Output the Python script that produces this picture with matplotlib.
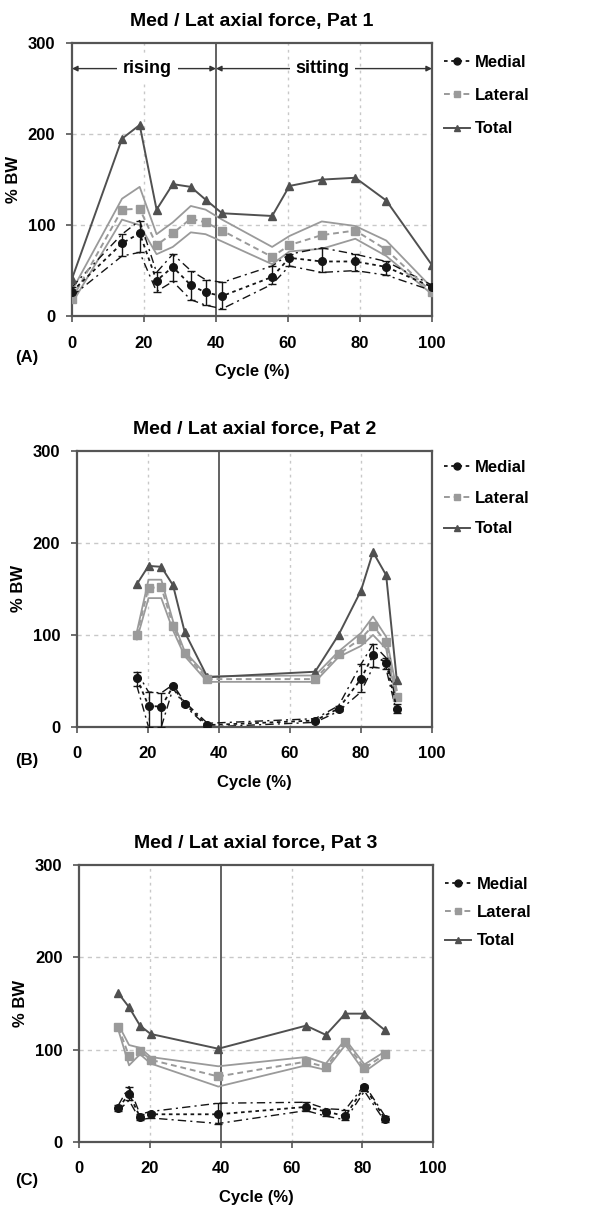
import matplotlib
matplotlib.use("Agg")
import matplotlib.pyplot as plt
import numpy as np
from matplotlib.lines import Line2D

plt.rcParams['font.family'] = ['Liberation Sans', 'DejaVu Sans']
plt.rcParams['font.weight'] = 'bold'

# Pat 1
x1 = [0, 13.9, 18.8, 23.5, 28, 33, 37.1, 41.7, 55.6, 60.4, 69.4, 78.7, 87.3, 100]
tot1 = [41, 195, 210, 117, 145, 142, 128, 113, 110, 143, 150, 152, 127, 56]
lat1 = [19, 117, 118, 78, 91, 107, 103, 94, 65, 78, 89, 94, 73, 26]
lat1_hi = [28, 129, 142, 90, 103, 121, 117, 106, 76, 88, 104, 99, 83, 31]
lat1_lo = [14, 106, 100, 68, 76, 92, 90, 82, 57, 71, 74, 85, 66, 24]
med1 = [27, 80, 91, 39, 54, 34, 26, 22, 43, 64, 60, 60, 54, 32]
med1_hi = [32, 90, 105, 48, 68, 50, 40, 37, 55, 68, 75, 68, 60, 34]
med1_lo = [22, 66, 70, 27, 38, 18, 12, 8, 35, 55, 48, 50, 45, 28]

# Pat 2
x2 = [16.9, 20.2, 23.8, 27.1, 30.4, 36.8, 67.1, 73.7, 80, 83.4, 87.1, 90.1]
tot2 = [155, 175, 174, 154, 103, 54, 60, 100, 148, 190, 165, 51]
lat2 = [100, 151, 152, 110, 80, 52, 52, 79, 96, 110, 92, 33]
lat2_hi = [103, 160, 160, 115, 82, 55, 56, 82, 102, 120, 98, 40]
lat2_lo = [95, 140, 140, 105, 77, 49, 49, 76, 88, 100, 85, 28]
med2 = [53, 23, 22, 44, 25, 2, 7, 20, 52, 78, 70, 20]
med2_hi = [60, 38, 37, 46, 27, 4, 9, 23, 68, 90, 75, 25]
med2_lo = [45, 0, 0, 42, 23, 0, 5, 17, 38, 65, 63, 15]

# Pat 3
x3 = [11.1, 14.1, 17.2, 20.2, 39.3, 64.1, 69.7, 75.2, 80.6, 86.4]
tot3 = [161, 146, 126, 117, 101, 126, 116, 139, 139, 121]
lat3 = [124, 93, 99, 89, 71, 87, 81, 108, 80, 95]
lat3_hi = [127, 105, 102, 92, 82, 92, 85, 111, 84, 98]
lat3_lo = [121, 83, 95, 85, 60, 83, 78, 105, 76, 92]
med3 = [37, 52, 27, 30, 30, 38, 33, 28, 60, 25]
med3_hi = [40, 60, 30, 33, 42, 43, 36, 35, 62, 28]
med3_lo = [34, 45, 24, 26, 20, 34, 28, 24, 55, 22]

titles = ['Med / Lat axial force, Pat 1', 'Med / Lat axial force, Pat 2', 'Med / Lat axial force, Pat 3']
letters = ['(A)', '(B)', '(C)']

cTot = '#505050'
cLat = '#9a9a9a'
cMed = '#151515'


def draw_panel(ax, x, tot, lat, lat_hi, lat_lo, med, med_hi, med_lo, title, legY, legSp):
    ax.set_xlim(0, 100)
    ax.set_ylim(0, 300)
    ax.set_xticks([0, 20, 40, 60, 80, 100])
    ax.set_yticks([0, 100, 200, 300])
    for v in [20, 60, 80]:
        ax.axvline(v, color='#c8c8c8', ls=(0, (2, 3)), lw=1.0, zorder=0)
    for v in [100, 200]:
        ax.axhline(v, color='#c8c8c8', ls=(0, (3, 3)), lw=1.0, zorder=0)
    ax.axvline(40, color='#555555', lw=1.3, zorder=1)

    # lateral sd band
    ax.plot(x, lat_hi, color=cLat, lw=1.3, zorder=2)
    ax.plot(x, lat_lo, color=cLat, lw=1.3, zorder=2)
    # medial sd band
    ax.plot(x, med_hi, color=cMed, lw=1.0, ls=(0, (6, 3, 1.5, 3)), zorder=2)
    ax.plot(x, med_lo, color=cMed, lw=1.0, ls=(0, (6, 3, 1.5, 3)), zorder=2)

    m = np.array(med)
    ax.errorbar(x, med, yerr=[m - np.array(med_lo), np.array(med_hi) - m], fmt='none',
                ecolor=cMed, elinewidth=1.0, capsize=3, zorder=3)
    ax.plot(x, tot, color=cTot, lw=1.4, marker='^', ms=6, zorder=4)
    ax.plot(x, lat, color=cLat, lw=1.4, ls=(0, (3, 2)), marker='s', ms=6, zorder=4)
    ax.plot(x, med, color=cMed, lw=1.3, ls=(0, (2, 2)), marker='o', ms=5.5, zorder=5)

    for s in ax.spines.values():
        s.set_color('#555555')
        s.set_linewidth(1.6)
    ax.tick_params(direction='out', length=4, width=1.2, color='#555555', labelsize=12)
    ax.tick_params(axis='x', pad=10)
    ax.tick_params(axis='y', pad=8)
    for lab in ax.get_xticklabels() + ax.get_yticklabels():
        lab.set_fontweight('bold')
    ax.set_xlabel('Cycle (%)', fontsize=12, fontweight='bold', labelpad=10)
    ax.set_ylabel('% BW', fontsize=12, fontweight='bold', labelpad=5)
    ax.set_title(title, fontsize=14, fontweight='bold', pad=12)

    handles = [
        Line2D([], [], color=cMed, ls=(0, (2, 2)), lw=1.3, marker='o', ms=5),
        Line2D([], [], color=cLat, ls=(0, (3, 2)), lw=1.4, marker='s', ms=5),
        Line2D([], [], color=cTot, lw=1.4, marker='^', ms=5),
    ]
    ax.legend(handles, ['Medial', 'Lateral', 'Total'], loc='upper left',
              bbox_to_anchor=(1.0, legY), frameon=False, handlelength=1.6,
              handletextpad=0.3, labelspacing=legSp, borderaxespad=0.3,
              prop={'size': 12, 'weight': 'bold'})


fig = plt.figure(figsize=(5.95, 12.11), dpi=100)
axA = fig.add_axes([0.121, 0.739, 0.605, 0.2254])
axB = fig.add_axes([0.129, 0.3997, 0.597, 0.228])
axC = fig.add_axes([0.133, 0.057, 0.595, 0.2287])

draw_panel(axA, x1, tot1, lat1, lat1_hi, lat1_lo, med1, med1_hi, med1_lo, titles[0], 1.0, 1.1)
draw_panel(axB, x2, tot2, lat2, lat2_hi, lat2_lo, med2, med2_hi, med2_lo, titles[1], 1.01, 0.95)
draw_panel(axC, x3, tot3, lat3, lat3_hi, lat3_lo, med3, med3_hi, med3_lo, titles[2], 1.0, 0.8)

# phase arrows on panel A
axA.annotate('', xy=(0, 272), xytext=(40, 272),
             arrowprops=dict(arrowstyle='<|-|>', color='#333333', lw=1.0, shrinkA=0, shrinkB=0,
                             mutation_scale=8))
axA.annotate('', xy=(40, 272), xytext=(100, 272),
             arrowprops=dict(arrowstyle='<|-|>', color='#333333', lw=1.0, shrinkA=0, shrinkB=0,
                             mutation_scale=8))
axA.text(21, 272, 'rising', ha='center', va='center', fontsize=13, fontweight='bold',
         bbox=dict(facecolor='white', edgecolor='none', pad=4))
axA.text(69.5, 272, 'sitting', ha='center', va='center', fontsize=13, fontweight='bold',
         bbox=dict(facecolor='white', edgecolor='none', pad=4))

ypos = [358, 760, 1180]
for lab, yp in zip(letters, ypos):
    fig.text(27 / 595, 1 - yp / 1211, lab, ha='center', va='center', fontsize=12, fontweight='bold')

fig.savefig('out.png', dpi=100)
